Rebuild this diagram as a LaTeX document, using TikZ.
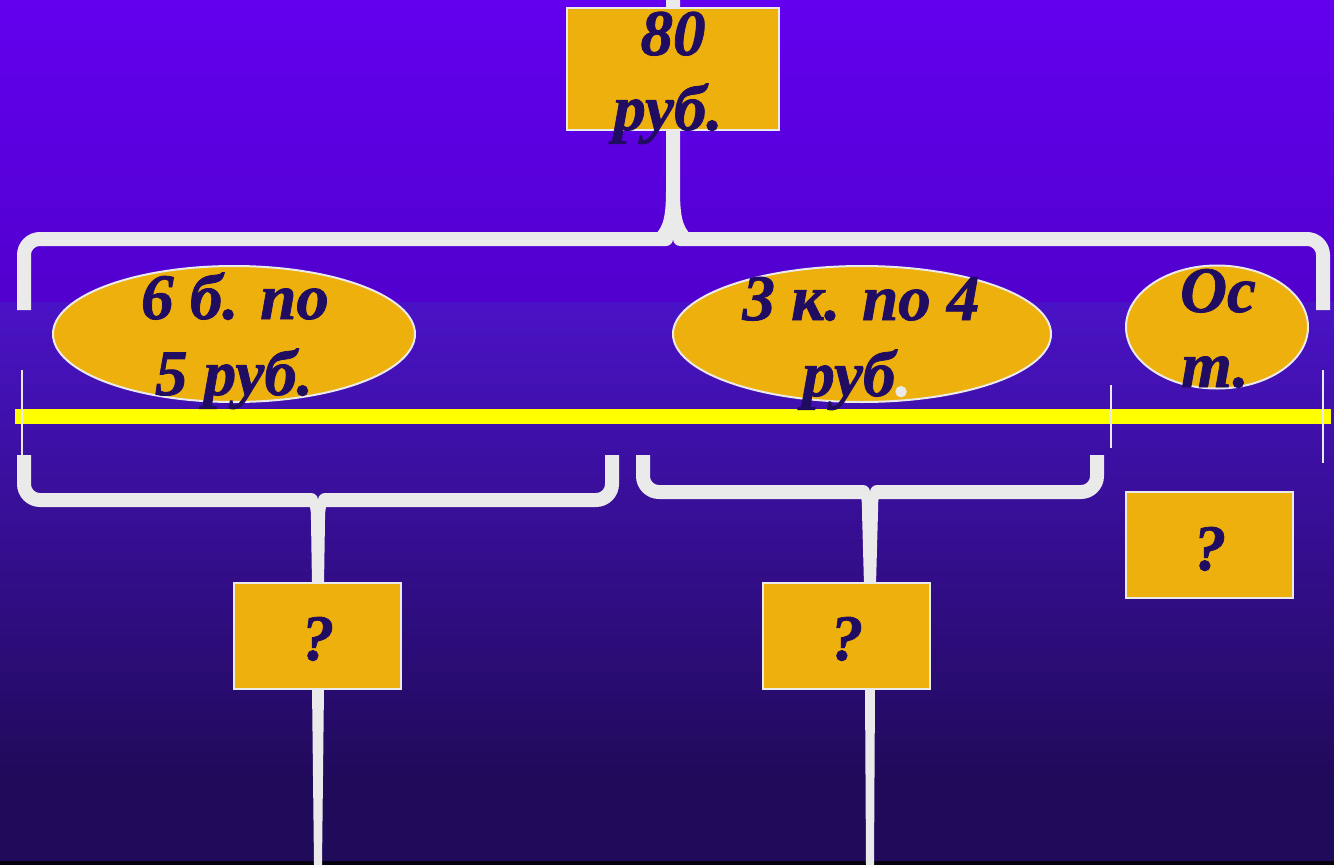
\documentclass[tikz,border=0pt]{standalone}
\usepackage{fontspec}
\setmainfont{Liberation Serif}[BoldItalicFeatures={FakeBold=1.2}]
\usetikzlibrary{shapes.geometric}
\definecolor{bgA}{HTML}{6300EF}
\definecolor{bgB}{HTML}{5100CE}
\definecolor{bgC}{HTML}{4A12C6}
\definecolor{bgD}{HTML}{2E0B82}
\definecolor{bgE}{HTML}{200A5A}
\definecolor{gold}{HTML}{EEB00C}
\definecolor{ink}{HTML}{200C60}
\definecolor{light}{HTML}{EAEAEA}
\definecolor{yel}{HTML}{FFFF00}
\tikzset{
  brace/.style={draw=light, line width=14pt, rounded corners=16pt},
  stemfill/.style={fill=light, draw=none},
  tip/.style={fill=light, draw=none},
  tick/.style={draw=light, line width=2pt},
  goldbox/.style={rectangle, fill=gold, draw=light, line width=2pt, inner sep=0pt},
  goldell/.style={ellipse, fill=gold, draw=light, line width=2pt, inner sep=0pt},
  txt/.style={text=ink, font=\fontsize{65pt}{76pt}\selectfont\bfseries\itshape, inner sep=0pt, anchor=base},
}
\begin{document}
\begin{tikzpicture}[x=1pt,y=-1pt]
\useasboundingbox (0,0) rectangle (1334,865);
% background
\shade[top color=bgA, bottom color=bgB] (0,0) rectangle (1334,302);
\shade[top color=bgC, middle color=bgD, bottom color=bgE] (0,302) rectangle (1334,780);
\fill[bgE] (0,779) rectangle (1334,861);
\fill[black!80!bgE] (0,861) rectangle (1334,865);
% coordinates
\coordinate (tl) at (24,310);
\coordinate (tr) at (1323,310);
\coordinate (tcl) at (666,239);
\coordinate (tcr) at (680,239);
\coordinate (aL) at (24,455);
\coordinate (aR) at (612,455);
\coordinate (acl) at (311,500);
\coordinate (acr) at (325,500);
\coordinate (bL) at (643,455);
\coordinate (bR) at (1097,455);
\coordinate (bcl) at (863,492);
\coordinate (bcr) at (877,492);
% top brace
\fill[stemfill] (666,0) -- (666,190) .. controls (666,222) and (662,230) .. (650,239) -- (696,239) .. controls (684,230) and (680,222) .. (680,190) -- (680,0) -- cycle;
\draw[brace] (tl) -- (24,239) -- (tcl);
\draw[brace] (tcr) -- (1323,239) -- (tr);
\fill[tip] (tcl) circle (7pt);
\fill[tip] (tcr) circle (7pt);
% lower brace 1
\draw[brace] (aL) -- (24,500) -- (acl);
\draw[brace] (acr) -- (612,500) -- (aR);
\fill[tip] (acl) circle (7pt);
\fill[tip] (acr) circle (7pt);
\fill[stemfill] (304,500) .. controls (310,503) and (311,508) .. (311,520) -- (312,585) -- (324,585) -- (325,520) .. controls (325,508) and (326,503) .. (332,500) -- cycle;
\fill[stemfill] (312,687) -- (314,865) -- (322,865) -- (324,687) -- cycle;
% lower brace 2
\draw[brace] (bL) -- (643,492) -- (bcl);
\draw[brace] (bcr) -- (1097,492) -- (bR);
\fill[tip] (bcl) circle (7pt);
\fill[tip] (bcr) circle (7pt);
\fill[stemfill] (856,492) .. controls (862,495) and (862,500) .. (862,512) -- (864,585) -- (876,585) -- (878,512) .. controls (878,500) and (878,495) .. (884,492) -- cycle;
\fill[stemfill] (865,687) -- (866,865) -- (874,865) -- (875,687) -- cycle;
% yellow line
\coordinate (yl) at (15,416.5);
\coordinate (yr) at (1331,416.5);
\draw[yel, line width=15pt] (yl) -- (yr);
% ticks
\coordinate (k1a) at (22,370); \coordinate (k1b) at (22,455);
\coordinate (k2a) at (1111,385); \coordinate (k2b) at (1111,448);
\coordinate (k3a) at (1323,370); \coordinate (k3b) at (1323,463);
\draw[tick] (k1a) -- (k1b);
\draw[tick] (k2a) -- (k2b);
\draw[tick] (k3a) -- (k3b);
% ellipses
\node[goldell, minimum width=362pt, minimum height=136pt] (e1) at (234,334) {};
\node[goldell, minimum width=378pt, minimum height=136pt] (e2) at (862,334) {};
\node[goldell, minimum width=182pt, minimum height=123pt] (e3) at (1217,327) {};
% boxes
\node[goldbox, minimum width=212pt, minimum height=122pt] (top) at (673,69) {};
\node[goldbox, minimum width=167pt, minimum height=106pt] (q1) at (317.5,636) {};
\node[goldbox, minimum width=167pt, minimum height=106pt] (q2) at (846.5,636) {};
\node[goldbox, minimum width=167pt, minimum height=106pt] (q3) at (1209.5,545) {};
% texts
\node[txt] (ta) at (673,55) {80};
\node[txt] (tb) at (668,130) {руб.};
\node[txt] (e1a) at (235,319) {6 б. по};
\node[txt] (e1b) at (234,395) {5 руб.};
\node[txt] (e2a) at (861,320) {3 к. по 4};
\node[txt] (e2b) at (857,396) {руб{\color{light}.}};
\node[txt] (e3a) at (1218,312) {Ос};
\node[txt] (e3b) at (1215,387) {т.};
\node[txt] (q1t) at (318,660) {?};
\node[txt] (q2t) at (847,660) {?};
\node[txt] (q3t) at (1210,570) {?};
\end{tikzpicture}
\end{document}
